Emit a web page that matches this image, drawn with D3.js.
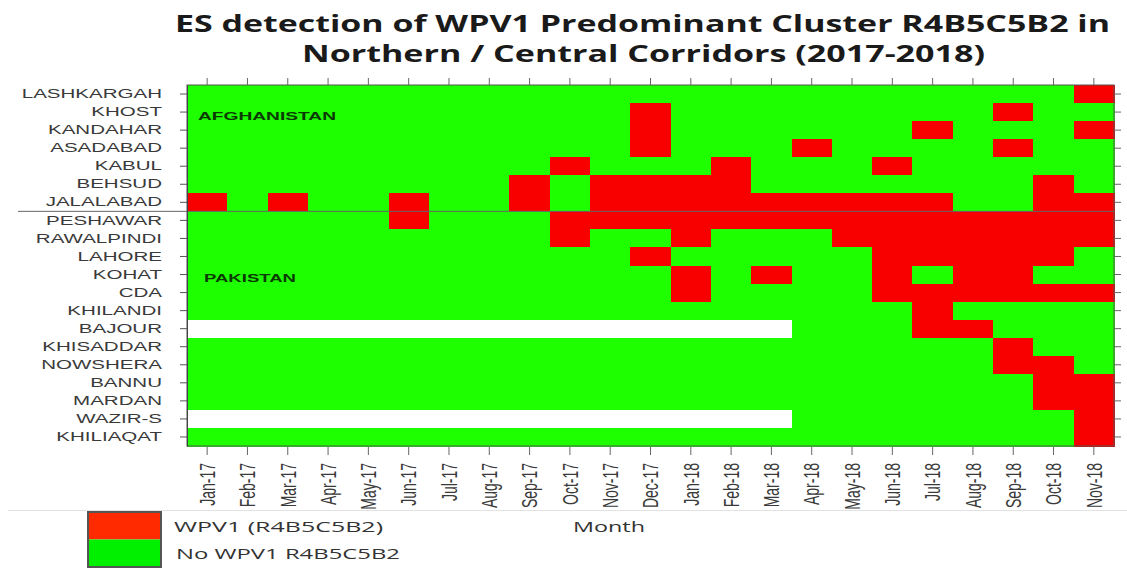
<!DOCTYPE html>
<html>
<head>
<meta charset="utf-8">
<script src="https://cdn.jsdelivr.net/npm/d3@7/dist/d3.min.js"></script>
<style>
  body { margin: 0; background: #fff; }
  svg { display: block; }
</style>
</head>
<body>
<div id="chart"></div>
<script>
const months = ["Jan-17", "Feb-17", "Mar-17", "Apr-17", "May-17", "Jun-17", "Jul-17", "Aug-17",
  "Sep-17", "Oct-17", "Nov-17", "Dec-17", "Jan-18", "Feb-18", "Mar-18", "Apr-18", "May-18",
  "Jun-18", "Jul-18", "Aug-18", "Sep-18", "Oct-18", "Nov-18"];

const sites = ["LASHKARGAH", "KHOST", "KANDAHAR", "ASADABAD", "KABUL", "BEHSUD", "JALALABAD",
  "PESHAWAR", "RAWALPINDI", "LAHORE", "KOHAT", "CDA", "KHILANDI", "BAJOUR", "KHISADDAR",
  "NOWSHERA", "BANNU", "MARDAN", "WAZIR-S", "KHILIAQAT"];

// 1 = WPV1 R4B5C5B2 detected, 0 = not detected, _ = no sample (white)
const _ = null;
const detections = [
  [0,0,0,0,0,0,0,0,0,0,0,0,0,0,0,0,0,0,0,0,0,0,1], // LASHKARGAH
  [0,0,0,0,0,0,0,0,0,0,0,1,0,0,0,0,0,0,0,0,1,0,0], // KHOST
  [0,0,0,0,0,0,0,0,0,0,0,1,0,0,0,0,0,0,1,0,0,0,1], // KANDAHAR
  [0,0,0,0,0,0,0,0,0,0,0,1,0,0,0,1,0,0,0,0,1,0,0], // ASADABAD
  [0,0,0,0,0,0,0,0,0,1,0,0,0,1,0,0,0,1,0,0,0,0,0], // KABUL
  [0,0,0,0,0,0,0,0,1,0,1,1,1,1,0,0,0,0,0,0,0,1,0], // BEHSUD
  [1,0,1,0,0,1,0,0,1,0,1,1,1,1,1,1,1,1,1,0,0,1,1], // JALALABAD
  [0,0,0,0,0,1,0,0,0,1,1,1,1,1,1,1,1,1,1,1,1,1,1], // PESHAWAR
  [0,0,0,0,0,0,0,0,0,1,0,0,1,0,0,0,1,1,1,1,1,1,1], // RAWALPINDI
  [0,0,0,0,0,0,0,0,0,0,0,1,0,0,0,0,0,1,1,1,1,1,0], // LAHORE
  [0,0,0,0,0,0,0,0,0,0,0,0,1,0,1,0,0,1,0,1,1,0,0], // KOHAT
  [0,0,0,0,0,0,0,0,0,0,0,0,1,0,0,0,0,1,1,1,1,1,1], // CDA
  [0,0,0,0,0,0,0,0,0,0,0,0,0,0,0,0,0,0,1,0,0,0,0], // KHILANDI
  [_,_,_,_,_,_,_,_,_,_,_,_,_,_,_,0,0,0,1,1,0,0,0], // BAJOUR
  [0,0,0,0,0,0,0,0,0,0,0,0,0,0,0,0,0,0,0,0,1,0,0], // KHISADDAR
  [0,0,0,0,0,0,0,0,0,0,0,0,0,0,0,0,0,0,0,0,1,1,0], // NOWSHERA
  [0,0,0,0,0,0,0,0,0,0,0,0,0,0,0,0,0,0,0,0,0,1,1], // BANNU
  [0,0,0,0,0,0,0,0,0,0,0,0,0,0,0,0,0,0,0,0,0,1,1], // MARDAN
  [_,_,_,_,_,_,_,_,_,_,_,_,_,_,_,0,0,0,0,0,0,0,1], // WAZIR-S
  [0,0,0,0,0,0,0,0,0,0,0,0,0,0,0,0,0,0,0,0,0,0,1]  // KHILIAQAT
];

const legendLabels = ["WPV1 (R4B5C5B2)", "No WPV1 R4B5C5B2"];
const titleLines = ["ES detection of WPV1 Predominant Cluster R4B5C5B2 in",
  "Northern / Central Corridors (2017-2018)"];

const width = 1127, height = 568;
const RED = "#f80000", GREEN = "#1eff00";
const SX = 1.58; // the source picture is stretched sideways
const labelFont = "'Liberation Sans', Arial, sans-serif";
const titleFont = "'Open Sans', 'DejaVu Sans', sans-serif";

const svg = d3.select("#chart").append("svg")
  .attr("width", width)
  .attr("height", height);

const x = d3.scaleBand().domain(months).range([187, 1114]);
const y = d3.scaleBand().domain(sites).range([85, 446]);

const cells = [];
sites.forEach((site, i) => {
  months.forEach((month, j) => {
    cells.push({ site, month, v: detections[i][j] });
  });
});

// cells
svg.append("g")
  .selectAll("rect")
  .data(cells)
  .join("rect")
  .attr("x", d => x(d.month))
  .attr("y", d => y(d.site))
  .attr("width", x.bandwidth() + 0.6)
  .attr("height", y.bandwidth() + 0.6)
  .attr("fill", d => d.v === null ? "#fff" : (d.v ? RED : GREEN))
  .attr("shape-rendering", "crispEdges");

// frame
svg.append("rect")
  .attr("x", x.range()[0])
  .attr("y", y.range()[0])
  .attr("width", x.range()[1] - x.range()[0])
  .attr("height", y.range()[1] - y.range()[0])
  .attr("fill", "none")
  .attr("stroke", "#555");

// country separator
svg.append("line")
  .attr("x1", 18).attr("x2", x.range()[1])
  .attr("y1", y("PESHAWAR")).attr("y2", y("PESHAWAR"))
  .attr("stroke", "#666");

// left axis
const yAxis = svg.append("g")
  .attr("transform", `translate(${x.range()[0]},0)`)
  .call(d3.axisLeft(y).tickSizeInner(7).tickSizeOuter(0).tickPadding(18));
yAxis.select(".domain").attr("stroke", "#444");
yAxis.selectAll(".tick line").attr("stroke", "#555");
yAxis.selectAll("text")
  .attr("x", -25 / SX)
  .attr("transform", `scale(${SX},1)`)
  .style("font-family", labelFont)
  .style("font-size", "13px")
  .attr("fill", "#3a3a3a");

// right ticks
const rAxis = svg.append("g")
  .attr("transform", `translate(${x.range()[1]},0)`)
  .call(d3.axisRight(y).tickSizeInner(7).tickSizeOuter(0).tickFormat(""));
rAxis.select(".domain").remove();
rAxis.selectAll(".tick line").attr("stroke", "#666");

// top ticks
const tAxis = svg.append("g")
  .attr("transform", `translate(0,${y.range()[0]})`)
  .call(d3.axisTop(x).tickSizeInner(7).tickSizeOuter(0).tickFormat(""));
tAxis.select(".domain").remove();
tAxis.selectAll(".tick line").attr("stroke", "#666");

// bottom axis
const xAxis = svg.append("g")
  .attr("transform", `translate(0,${y.range()[1] + 1})`)
  .call(d3.axisBottom(x).tickSizeInner(8).tickSizeOuter(0));
xAxis.select(".domain").remove();
xAxis.selectAll(".tick line").attr("stroke", "#666");
xAxis.selectAll("text")
  .attr("x", 0)
  .attr("y", 0)
  .attr("dy", "0.35em")
  .attr("text-anchor", "end")
  .attr("transform", `translate(0,16) scale(${SX},1) rotate(-90)`)
  .style("font-family", labelFont)
  .style("font-size", "14px")
  .attr("fill", "#3a3a3a");

// country labels
svg.append("text")
  .attr("x", 198).attr("y", 120)
  .attr("textLength", 138).attr("lengthAdjust", "spacingAndGlyphs")
  .style("font-family", labelFont).style("font-weight", "bold").style("font-size", "11px")
  .attr("fill", "#0b3a00")
  .text("AFGHANISTAN");

svg.append("text")
  .attr("x", 204).attr("y", 282)
  .attr("textLength", 92).attr("lengthAdjust", "spacingAndGlyphs")
  .style("font-family", labelFont).style("font-weight", "bold").style("font-size", "11px")
  .attr("fill", "#0b3a00")
  .text("PAKISTAN");

// title
const titleSpans = [[175, 32, 935], [302, 62, 683]];
svg.append("g")
  .selectAll("text")
  .data(titleLines)
  .join("text")
  .attr("x", (d, i) => titleSpans[i][0])
  .attr("y", (d, i) => titleSpans[i][1])
  .attr("textLength", (d, i) => titleSpans[i][2])
  .attr("lengthAdjust", "spacingAndGlyphs")
  .style("font-family", titleFont)
  .style("font-weight", "bold")
  .style("font-size", "24px")
  .attr("fill", "#1a1a1a")
  .text(d => d);

// light rule above legend
svg.append("line")
  .attr("x1", 8).attr("x2", width)
  .attr("y1", 510.5).attr("y2", 510.5)
  .attr("stroke", "#e2e2e2");

// x title
svg.append("text")
  .attr("x", 573).attr("y", 532)
  .attr("textLength", 72).attr("lengthAdjust", "spacingAndGlyphs")
  .style("font-family", titleFont).style("font-size", "15px")
  .attr("fill", "#333")
  .text("Month");

// legend
const ly = d3.scaleBand().domain(legendLabels).range([512, 567]);
const legendColor = d3.scaleOrdinal().domain(legendLabels).range(["#ff2a00", "#00f000"]);
const legendText = [209, 224];

const legend = svg.append("g");
legend.selectAll("rect")
  .data(legendLabels)
  .join("rect")
  .attr("x", 88)
  .attr("y", d => ly(d))
  .attr("width", 73)
  .attr("height", ly.bandwidth())
  .attr("fill", d => legendColor(d));
legend.append("rect")
  .attr("x", 88).attr("y", 512)
  .attr("width", 73).attr("height", 55)
  .attr("fill", "none")
  .attr("stroke", "#555").attr("stroke-width", 2);
legend.selectAll("text")
  .data(legendLabels)
  .join("text")
  .attr("x", (d, i) => i ? 176 : 174)
  .attr("y", d => ly(d) + ly.bandwidth() / 2 + 6)
  .attr("textLength", (d, i) => legendText[i])
  .attr("lengthAdjust", "spacingAndGlyphs")
  .style("font-family", titleFont)
  .style("font-size", "15px")
  .attr("fill", "#333")
  .text(d => d);
</script>
</body>
</html>
